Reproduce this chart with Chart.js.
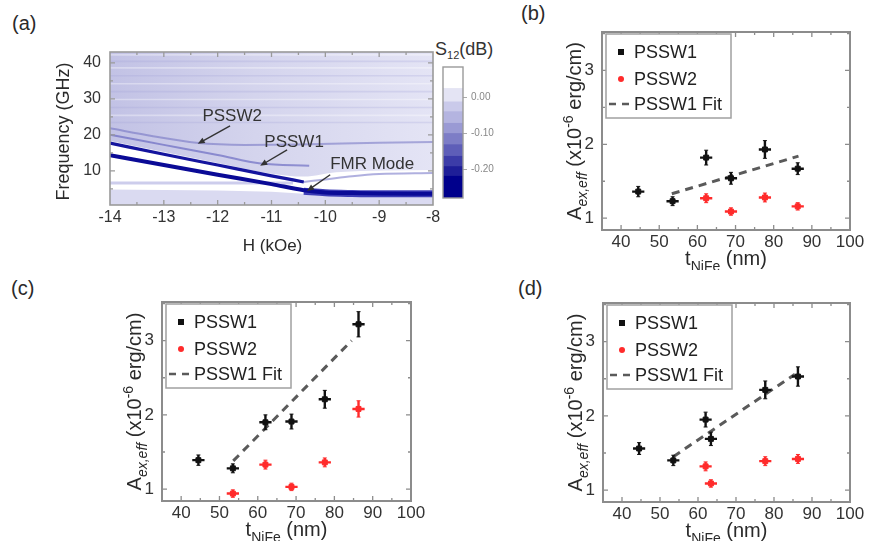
<!DOCTYPE html>
<html>
<head>
<meta charset="utf-8">
<title>NiFe spin-wave modes and exchange stiffness</title>
<script src="https://cdn.jsdelivr.net/npm/chart.js@4.4.1/dist/chart.umd.min.js"></script>
<style>
  html, body { margin:0; padding:0; background:#fff; }
  body { position:relative; width:873px; height:541px; overflow:hidden;
         font-family:"Liberation Sans", Arial, Helvetica, sans-serif; color:#2a2a2a; }
  canvas { position:absolute; }
  .tag { position:absolute; font-size:20px; line-height:1; }
  .cbt { position:absolute; font-size:18px; line-height:1; color:#333; }
  .cbt sub { font-size:11px; vertical-align:-4px; }
</style>
</head>
<body>
<div class="tag" style="left:12px;top:13px">(a)</div>
<div class="tag" style="left:521px;top:3px">(b)</div>
<div class="tag" style="left:11px;top:278px">(c)</div>
<div class="tag" style="left:518px;top:278px">(d)</div>
<div class="cbt" style="left:435px;top:40px">S<sub>12</sub>(dB)</div>
<canvas id="cvA" width="460" height="240" style="left:0;top:30px"></canvas>
<canvas id="cvBar" width="100" height="170" style="left:425px;top:50px"></canvas>
<canvas id="cvB" width="353" height="270" style="left:520px;top:0"></canvas>
<canvas id="cvC" width="360" height="271" style="left:80px;top:270px"></canvas>
<canvas id="cvD" width="353" height="271" style="left:520px;top:270px"></canvas>
<script>
// ---------- (a) transmission map: field / frequency axes ----------
const fieldTicks = [-14, -13, -12, -11, -10, -9, -8];
const freqTicks  = [10, 20, 30, 40];

// resonance branches, [H (kOe), f (GHz)]
const fmrMode    = [[-14,14.3],[-13,11.6],[-12,8.9],[-11,6.3],[-10.4,4.6],[-10,4.0],[-9.5,3.8],[-9,3.7],[-8,3.6]];
const fmrTail    = [[-10.4,4.3],[-10,3.9],[-9.5,3.7],[-9,3.6],[-8,3.6]];
const upperMode  = [[-14,17.7],[-13,14.6],[-12,11.6],[-11,8.6],[-10.4,6.9]];
const upperTail  = [[-10.4,6.9],[-10,7.6],[-9.5,8.5],[-9,9.1],[-8,9.4]];
const pssw1Mode  = [[-14,20.0],[-13,17.2],[-12,14.4],[-11.2,12.0],[-10.3,11.4]];
const pssw2Mode  = [[-14,21.8],[-13.2,19.6],[-12.4,17.8],[-11.5,17.2],[-10.5,17.3],[-9,17.8],[-8,18.0]];

// background structure of the map
const absorbEdge = [[-14,18.3],[-13,15.2],[-12,12.2],[-11,9.2],[-10.4,8.4],[-9.8,9.6],[-8,10.2]];
const lowBand    = [[-14,4.8],[-12,4.5],[-11,4.2],[-10.4,3.6],[-8,2.8]];
const lowStripe  = [[-14,6.6],[-10.6,6.6]];
const streakF    = [42.2, 40.4, 38.6, 36.4, 34.2, 32.0, 29.8, 27.6, 25.4, 23.4];

// mode labels with their arrows
const noteText = ['PSSW2', 'PSSW1', 'FMR Mode'];
const noteH = [-11.73, -10.58, -9.13];
const noteF = [25.0, 18.05, 11.7];
const tailH = [-11.77, -10.71, -9.91];
const tailF = [22.5, 15.8, 8.9];
const tipH  = [-12.37, -11.21, -10.34];
const tipF  = [17.5, 11.4, 4.4];

// colour bar levels (dB)
const cbTicks  = [0, -0.1, -0.2];
const cbEdges  = [-0.278, -0.218, -0.191, -0.163, -0.131, -0.100, -0.072, -0.040, -0.013, 0.024, 0.083];
const cbColors = ['#00008c', '#1e1e98', '#3c3ca8', '#5e5eb8', '#7d7dc6', '#9a9ad4', '#b4b4e0', '#cacaea', '#e4e4f4', '#ffffff'];

// ---------- (b)-(d) exchange stiffness vs NiFe thickness ----------
const thickTicks = [40, 50, 60, 70, 80, 90, 100];
const aexTicks   = [1, 2, 3];

const tB1 = [44.5, 53.5, 62.3, 68.8, 77.7, 86.3];
const aB1 = [1.36, 1.23, 1.82, 1.54, 1.93, 1.67];
const eB1 = [0.07, 0.06, 0.10, 0.08, 0.12, 0.08];
const xB1 = [1.6, 1.6, 1.6, 1.6, 1.6, 1.6];
const tB2 = [62.3, 68.8, 77.7, 86.3];
const aB2 = [1.27, 1.09, 1.28, 1.16];
const eB2 = [0.06, 0.05, 0.06, 0.05];
const xB2 = [1.6, 1.6, 1.6, 1.6];
const fitBt = [53.3, 86.5];
const fitBa = [1.33, 1.84];

const tC1 = [44.5, 53.5, 62.0, 68.8, 77.5, 86.3];
const aC1 = [1.39, 1.28, 1.90, 1.91, 2.21, 3.22];
const eC1 = [0.07, 0.06, 0.10, 0.10, 0.12, 0.17];
const xC1 = [1.6, 1.6, 1.6, 1.6, 1.6, 1.6];
const tC2 = [53.5, 62.0, 68.8, 77.5, 86.3];
const aC2 = [0.94, 1.33, 1.03, 1.36, 2.08];
const eC2 = [0.05, 0.06, 0.05, 0.06, 0.11];
const xC2 = [1.6, 1.6, 1.6, 1.6, 1.6];
const fitCt = [53.6, 84.5];
const fitCa = [1.38, 3.00];

const tD1 = [44.5, 53.5, 62.0, 63.4, 77.7, 86.3];
const aD1 = [1.56, 1.40, 1.95, 1.69, 2.35, 2.53];
const eD1 = [0.08, 0.07, 0.10, 0.09, 0.12, 0.13];
const xD1 = [1.6, 1.6, 1.6, 1.6, 1.6, 1.6];
const tD2 = [62.0, 63.4, 77.7, 86.3];
const aD2 = [1.32, 1.09, 1.39, 1.42];
const eD2 = [0.06, 0.05, 0.06, 0.06];
const xD2 = [1.6, 1.6, 1.6, 1.6];
const fitDt = [53.5, 85.5];
const fitDa = [1.45, 2.56];

// ---------- shared setup ----------
const FONT = '"Liberation Sans", Arial, Helvetica, sans-serif';
Chart.defaults.font.family = FONT;
Chart.defaults.color = '#333';
Chart.defaults.animation = false;
Chart.defaults.events = [];
Chart.defaults.plugins.legend.display = false;
Chart.defaults.plugins.tooltip.enabled = false;

const xy  = arr => arr.map(([x, y]) => ({x, y}));
const pts = (t, a) => t.map((x, i) => ({x, y: a[i]}));

// padding so that the plot area lands on the wanted rectangle
function place(box, area, yW, xH) {
  return {
    left: area.l - box.x - yW,
    top: area.t - box.y,
    right: box.x + box.w - area.r,
    bottom: box.y + box.h - area.b - xH
  };
}

function linScale(min, max, ticks, size, pad, pos, thick, fmt) {
  return {
    type: 'linear', position: pos, min, max, bounds: 'data',
    afterBuildTicks: s => { s.ticks = ticks.map(v => ({value: v})); },
    afterFit: s => { if (s.isHorizontal()) s.height = thick; else s.width = thick; },
    grid: { display: false, drawTicks: false },
    border: { display: false },
    ticks: { font: {size}, color: '#333', padding: pad, maxRotation: 0, autoSkip: false,
             callback: fmt || (v => String(v)) }
  };
}

// midpoints between labelled ticks, plus half steps just outside them
function halfSteps(major, min, max) {
  const step = major[1] - major[0], out = [];
  for (let v = major[0] - step / 2; v <= max + 1e-9; v += step) if (v >= min - 1e-9) out.push(v);
  return out;
}

// box frame (at the axis limits) with inward ticks on all four sides
const frame = {
  id: 'frame',
  afterDatasetsDraw(chart, args, o) {
    const {ctx} = chart, xs = chart.scales.x, ys = chart.scales.y;
    const L = xs.getPixelForValue(o.x0), R = xs.getPixelForValue(o.x1);
    const B = ys.getPixelForValue(o.y0), T = ys.getPixelForValue(o.y1);
    ctx.save();
    ctx.strokeStyle = o.color || '#8c8c8c';
    ctx.lineWidth = o.width || 2;
    ctx.strokeRect(L, T, R - L, B - T);
    ctx.lineWidth = 1.3;
    ctx.beginPath();
    const xt = (o.xMajor || []).map(v => [v, 5]).concat((o.xMinor || []).map(v => [v, 3]));
    const yt = (o.yMajor || []).map(v => [v, 5]).concat((o.yMinor || []).map(v => [v, 3]));
    xt.forEach(([v, len]) => {
      const p = xs.getPixelForValue(v);
      if (p <= L + 1 || p >= R - 1) return;
      ctx.moveTo(p, B); ctx.lineTo(p, B - len);
      ctx.moveTo(p, T); ctx.lineTo(p, T + len);
    });
    yt.forEach(([v, len]) => {
      const p = ys.getPixelForValue(v);
      if (p <= T + 1 || p >= B - 1) return;
      ctx.moveTo(L, p); ctx.lineTo(L + len, p);
      ctx.moveTo(R, p); ctx.lineTo(R - len, p);
    });
    ctx.stroke();
    ctx.restore();
  }
};

// crossed error bars for datasets that carry errX / errY
const errorBars = {
  id: 'errorBars',
  afterDatasetsDraw(chart) {
    const {ctx} = chart, xs = chart.scales.x, ys = chart.scales.y;
    chart.data.datasets.forEach(ds => {
      if (!ds.errY) return;
      ctx.save();
      ctx.strokeStyle = ds.borderColor;
      ds.data.forEach((p, j) => {
        const px = xs.getPixelForValue(p.x), py = ys.getPixelForValue(p.y);
        const y1 = ys.getPixelForValue(p.y - ds.errY[j]), y2 = ys.getPixelForValue(p.y + ds.errY[j]);
        const x1 = xs.getPixelForValue(p.x - ds.errX[j]), x2 = xs.getPixelForValue(p.x + ds.errX[j]);
        ctx.lineWidth = 2.4;
        ctx.beginPath();
        ctx.moveTo(px, y1); ctx.lineTo(px, y2);
        ctx.moveTo(x1, py); ctx.lineTo(x2, py);
        ctx.stroke();
        ctx.lineWidth = 1;
        ctx.beginPath();
        ctx.moveTo(px - 2, y1); ctx.lineTo(px + 2, y1);
        ctx.moveTo(px - 2, y2); ctx.lineTo(px + 2, y2);
        ctx.stroke();
      });
      ctx.restore();
    });
  }
};

// framed legend inside the upper-left corner of the plot
const boxLegend = {
  id: 'boxLegend',
  afterDatasetsDraw(chart, args, o) {
    if (!o.show) return;
    const {ctx} = chart, xs = chart.scales.x, ys = chart.scales.y;
    const x0 = xs.getPixelForValue(xs.min) + o.dx, y0 = ys.getPixelForValue(ys.max) + o.dy;
    ctx.save();
    ctx.fillStyle = '#fff';
    ctx.fillRect(x0, y0, o.w, o.h);
    ctx.strokeStyle = '#a0a0a0'; ctx.lineWidth = 1.5;
    ctx.strokeRect(x0, y0, o.w, o.h);
    ctx.font = `18px ${FONT}`; ctx.textBaseline = 'middle'; ctx.textAlign = 'left';
    chart.data.datasets.forEach((ds, i) => {
      const yy = y0 + o.rows[i];
      if (ds.showLine === false) {
        ctx.fillStyle = ds.backgroundColor;
        ctx.beginPath();
        if (ds.legendDot) ctx.arc(x0 + 15, yy, 3, 0, Math.PI * 2);
        else ctx.rect(x0 + 12, yy - 3, 6, 6);
        ctx.fill();
      } else {
        ctx.strokeStyle = ds.borderColor; ctx.lineWidth = 2.5;
        ctx.setLineDash([7, 6]);
        ctx.beginPath(); ctx.moveTo(x0 + 3, yy); ctx.lineTo(x0 + 24, yy); ctx.stroke();
        ctx.setLineDash([]);
      }
      ctx.fillStyle = '#222';
      ctx.fillText(ds.label, x0 + o.textX, yy + 1);
    });
    ctx.restore();
  }
};

// axis titles with sub- and superscripts
function drawRich(ctx, segs, size, cx, cy, rotate) {
  const parts = segs.map(s => {
    const fs = (s.sub || s.sup) ? Math.round(size * 0.68) : size;
    const font = `${s.it ? 'italic ' : ''}${fs}px ${FONT}`;
    ctx.font = font;
    return {s, font, w: ctx.measureText(s.t).width};
  });
  const total = parts.reduce((t, p) => t + p.w, 0);
  ctx.save();
  ctx.translate(cx, cy);
  if (rotate) ctx.rotate(-Math.PI / 2);
  ctx.textBaseline = 'alphabetic'; ctx.textAlign = 'left';
  let x = -total / 2;
  const base = size * 0.36;
  parts.forEach(p => {
    ctx.font = p.font;
    let dy = base;
    if (p.s.sub) dy += size * 0.27;
    if (p.s.sup) dy -= size * 0.42;
    ctx.fillText(p.s.t, x, dy);
    x += p.w;
  });
  ctx.restore();
}
const titles = {
  id: 'titles',
  afterDraw(chart, args, o) {
    const {ctx} = chart, xs = chart.scales.x, ys = chart.scales.y;
    const L = xs.getPixelForValue(xs.min), R = xs.getPixelForValue(xs.max);
    const T = ys.getPixelForValue(ys.max), B = ys.getPixelForValue(ys.min);
    ctx.save(); ctx.fillStyle = '#2a2a2a';
    if (o.x) drawRich(ctx, o.x.segs, o.x.size, (L + R) / 2 + (o.x.dx || 0), B + o.x.off, false);
    if (o.y) drawRich(ctx, o.y.segs, o.y.size, L - o.y.off, (T + B) / 2 + (o.y.dx || 0), true);
    ctx.restore();
  }
};

// mode labels and arrows on the map
const modeNotes = {
  id: 'modeNotes',
  afterDatasetsDraw(chart) {
    const {ctx} = chart, xs = chart.scales.x, ys = chart.scales.y;
    ctx.save();
    ctx.font = `17px ${FONT}`; ctx.fillStyle = '#333'; ctx.strokeStyle = '#333'; ctx.lineWidth = 1.4;
    ctx.textAlign = 'center'; ctx.textBaseline = 'middle';
    noteText.forEach((t, i) => {
      ctx.fillText(t, xs.getPixelForValue(noteH[i]), ys.getPixelForValue(noteF[i]));
      const x1 = xs.getPixelForValue(tailH[i]), y1 = ys.getPixelForValue(tailF[i]);
      const x2 = xs.getPixelForValue(tipH[i]),  y2 = ys.getPixelForValue(tipF[i]);
      const ang = Math.atan2(y2 - y1, x2 - x1);
      ctx.beginPath(); ctx.moveTo(x1, y1); ctx.lineTo(x2 - 4 * Math.cos(ang), y2 - 4 * Math.sin(ang)); ctx.stroke();
      ctx.beginPath();
      ctx.moveTo(x2, y2);
      ctx.lineTo(x2 - 7 * Math.cos(ang) + 3 * Math.sin(ang), y2 - 7 * Math.sin(ang) - 3 * Math.cos(ang));
      ctx.lineTo(x2 - 7 * Math.cos(ang) - 3 * Math.sin(ang), y2 - 7 * Math.sin(ang) + 3 * Math.cos(ang));
      ctx.closePath(); ctx.fill();
    });
    ctx.restore();
  }
};

// ---------- (a) map ----------
function absorbFill(context) {
  const {chart} = context, a = chart.chartArea;
  if (!a) return '#d6d6ee';
  const g = chart.ctx.createLinearGradient(a.left, 0, a.right, 0);
  g.addColorStop(0, 'rgb(194,194,229)');
  g.addColorStop(0.45, 'rgb(212,212,237)');
  g.addColorStop(1, 'rgb(228,228,245)');
  return g;
}
function modeLine(arr, color, width, order) {
  return { data: xy(arr), borderColor: color, borderWidth: width, pointRadius: 0,
           cubicInterpolationMode: 'monotone', fill: false, order };
}
const mapSets = [
  { data: xy(absorbEdge), borderWidth: 0, pointRadius: 0, fill: 'end', backgroundColor: absorbFill,
    cubicInterpolationMode: 'monotone', order: 20 },
  { data: xy(lowBand), borderWidth: 0, pointRadius: 0, fill: 'start', backgroundColor: 'rgb(218,218,241)', order: 19 },
  modeLine(lowStripe, 'rgba(200,200,234,0.9)', 3, 18)
];
streakF.forEach((f, i) => {
  mapSets.push(modeLine([[-14, f], [-8, f]], i % 2 ? 'rgba(160,160,214,0.25)' : 'rgba(255,255,255,0.35)', 1.6, 15));
});
mapSets.push(
  modeLine(pssw2Mode, 'rgba(90,90,185,0.45)', 2, 6),
  modeLine(pssw1Mode, 'rgba(70,70,180,0.5)', 2, 5),
  modeLine(upperTail, 'rgba(80,80,185,0.45)', 2, 5),
  modeLine(fmrTail, 'rgba(30,30,170,0.85)', 7, 4),
  modeLine(upperMode, '#14149e', 3.2, 2),
  modeLine(fmrMode, '#0a0a96', 4, 1)
);

const boxA = {x: 0, y: 30, w: 460, h: 240}, areaA = {l: 110, t: 52, r: 433, b: 205};
new Chart(document.getElementById('cvA'), {
  type: 'line',
  data: { datasets: mapSets },
  options: {
    responsive: false,
    layout: { padding: place(boxA, areaA, 40, 30) },
    scales: {
      x: linScale(-14, -8, fieldTicks, 16, 3, 'bottom', 30),
      y: linScale(0.5, 43, freqTicks, 16, 9, 'left', 40)
    },
    plugins: {
      frame: { x0: -14, x1: -8, y0: 0.5, y1: 43, color: '#9a9a9a', width: 1.6,
               xMajor: fieldTicks, xMinor: halfSteps(fieldTicks, -14, -8),
               yMajor: freqTicks, yMinor: halfSteps(freqTicks, 0.5, 43) },
      titles: { x: { segs: [{t: 'H (kOe)'}], size: 17, off: 40, dx: 1 },
                y: { segs: [{t: 'Frequency (GHz)'}], size: 18, off: 47, dx: 3 } }
    }
  },
  plugins: [modeNotes, frame, titles]
});

// ---------- colour bar ----------
const barSets = cbColors.map((c, i) => ({
  data: [[cbEdges[i], cbEdges[i + 1]]], backgroundColor: c, borderWidth: 0,
  grouped: false, barPercentage: 1, categoryPercentage: 1
}));
new Chart(document.getElementById('cvBar'), {
  type: 'bar',
  data: { labels: ['S12'], datasets: barSets },
  options: {
    responsive: false,
    layout: { padding: { left: 443 - 425, top: 67 - 50, right: 525 - 463 - 45, bottom: 220 - 198 } },
    scales: {
      x: { display: false },
      y: {
        type: 'linear', position: 'right', min: cbEdges[0], max: cbEdges[cbEdges.length - 1],
        afterBuildTicks: s => { s.ticks = cbTicks.map(v => ({value: v})); },
        afterFit: s => { s.width = 45; },
        grid: { display: true, drawOnChartArea: false, drawTicks: true, tickLength: 4, color: '#aaa' },
        border: { display: false },
        ticks: { font: {size: 10}, color: '#888', padding: 4, callback: v => v.toFixed(2) }
      }
    }
  },
  plugins: [{
    id: 'barFrame',
    afterDatasetsDraw(chart) {
      const {ctx, chartArea: a} = chart;
      ctx.save(); ctx.strokeStyle = '#9a9a9a'; ctx.lineWidth = 1.4;
      ctx.strokeRect(a.left, a.top, a.right - a.left, a.bottom - a.top); ctx.restore();
    }
  }]
});

// ---------- (b)-(d) ----------
const ySegs = [{t: 'A'}, {t: 'ex,eff', sub: true, it: true}, {t: ' (x10'}, {t: '-6', sup: true}, {t: ' erg/cm)'}];
const xSegs = [{t: 't'}, {t: 'NiFe', sub: true}, {t: ' (nm)'}];

function stiffnessPanel(id, box, area, s) {
  const datasets = [
    { label: 'PSSW1', data: pts(s.t1, s.a1), showLine: false, pointStyle: 'rect', pointRadius: 3.5,
      backgroundColor: '#111', borderColor: '#111', errX: s.x1, errY: s.e1, order: 1 },
    { label: 'PSSW2', data: pts(s.t2, s.a2), showLine: false, pointStyle: 'rect', pointRadius: 3.5,
      backgroundColor: '#ff2b2b', borderColor: '#ff2b2b', errX: s.x2, errY: s.e2, legendDot: true, order: 2 },
    { label: 'PSSW1 Fit', data: pts(s.ft, s.fa), showLine: true, borderDash: [8, 6], borderColor: '#5a5a5a',
      borderWidth: 3, pointRadius: 0, fill: false, order: 3 }
  ];
  new Chart(document.getElementById(id), {
    type: 'line',
    data: { datasets },
    options: {
      responsive: false,
      layout: { padding: place(box, area, 40, 30) },
      scales: {
        x: linScale(35, 100, thickTicks, 17, 2, 'bottom', 30),
        y: linScale(0.84, 3.52, aexTicks, 17, 8, 'left', 40)
      },
      plugins: {
        frame: { x0: 35, x1: 100, y0: 0.84, y1: 3.52, color: '#8c8c8c', width: 2,
                 xMajor: thickTicks, xMinor: halfSteps(thickTicks, 35, 100),
                 yMajor: aexTicks, yMinor: halfSteps(aexTicks, 0.84, 3.52) },
        boxLegend: { show: true, dx: 4, dy: 2, w: 125, h: 84, rows: [18, 45, 70], textX: 28 },
        titles: { x: { segs: xSegs, size: 20, off: 28 }, y: { segs: ySegs, size: 20, off: 28 } }
      }
    },
    plugins: [errorBars, frame, boxLegend, titles]
  });
}

stiffnessPanel('cvB', {x: 520, y: 0, w: 353, h: 270}, {l: 602, t: 32, r: 850, b: 230},
  {t1: tB1, a1: aB1, e1: eB1, x1: xB1, t2: tB2, a2: aB2, e2: eB2, x2: xB2, ft: fitBt, fa: fitBa});
stiffnessPanel('cvC', {x: 80, y: 270, w: 360, h: 271}, {l: 162, t: 302, r: 411, b: 501},
  {t1: tC1, a1: aC1, e1: eC1, x1: xC1, t2: tC2, a2: aC2, e2: eC2, x2: xC2, ft: fitCt, fa: fitCa});
stiffnessPanel('cvD', {x: 520, y: 270, w: 353, h: 271}, {l: 603, t: 303, r: 850, b: 502},
  {t1: tD1, a1: aD1, e1: eD1, x1: xD1, t2: tD2, a2: aD2, e2: eD2, x2: xD2, ft: fitDt, fa: fitDa});
</script>
</body>
</html>
